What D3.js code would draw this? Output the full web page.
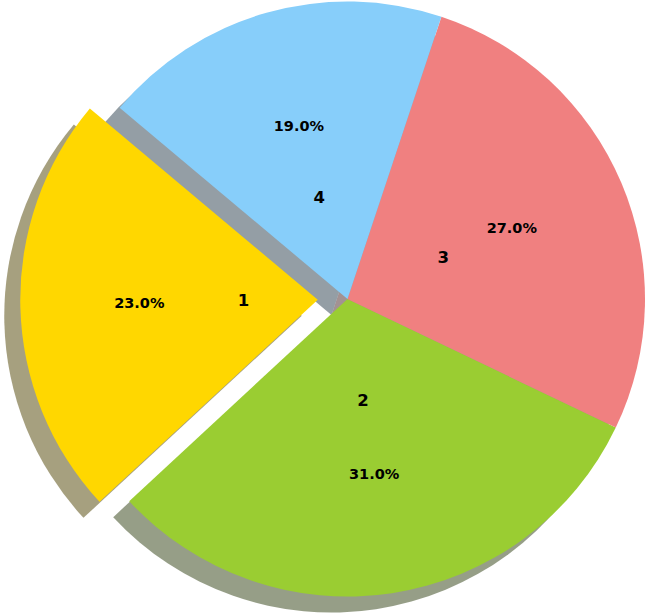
<!DOCTYPE html>
<html>
<head>
<meta charset="utf-8">
<script src="https://cdn.jsdelivr.net/npm/d3@7"></script>
<style>
html,body{margin:0;padding:0;background:#fff;}
svg{display:block;}
</style>
</head>
<body>
<svg id="chart" width="647" height="614"></svg>
<script>
const categories = ["1", "2", "3", "4"];
const values = [23, 31, 27, 19];
const colors = ["#FFD700", "#9ACD32", "#F08080", "#87CEFA"];
const explode = [0.1, 0, 0, 0];

const W = 647, H = 614;
const cx = 347.5, cy = 299, R = 297.5;
const startDeg = 140;            // matplotlib-style start angle (ccw from 3 o'clock)
const pctDistance = 0.6, labelDistance = 0.35;
const shadowDx = -16, shadowDy = 16;

const svg = d3.select("#chart");
const rad = d => d * Math.PI / 180;
const total = d3.sum(values);

const pie = d3.pie().sort(null).value(d => d.v)
  .startAngle(rad(90 - startDeg))
  .endAngle(rad(90 - startDeg - 360));

const data = categories.map((c, i) => ({ c, v: values[i], color: colors[i], ex: explode[i] }));
const arcs = pie(data);
const arc = d3.arc().innerRadius(0).outerRadius(R);

arcs.forEach(a => {
  a.mid = (a.startAngle + a.endAngle) / 2;
  a.ox = Math.sin(a.mid) * a.data.ex * R;
  a.oy = -Math.cos(a.mid) * a.data.ex * R;
});

const g = svg.append("g").attr("transform", `translate(${cx},${cy})`);

// shadows (behind all wedges)
g.selectAll("path.shadow").data(arcs).join("path")
  .attr("class", "shadow")
  .attr("transform", d => `translate(${d.ox + shadowDx},${d.oy + shadowDy})`)
  .attr("d", arc)
  .attr("fill", d => { const c = d3.rgb(d.data.color); return d3.rgb(c.r * 0.3, c.g * 0.3, c.b * 0.3).toString(); })
  .attr("fill-opacity", 0.5);

// wedges
g.selectAll("path.wedge").data(arcs).join("path")
  .attr("class", "wedge")
  .attr("transform", d => `translate(${d.ox},${d.oy})`)
  .attr("d", arc)
  .attr("fill", d => d.data.color);

const fsPct = 14.5, fsLab = 16.5;
const textLift = 1.5;

// percentage labels
g.selectAll("text.pct").data(arcs).join("text")
  .attr("class", "pct")
  .attr("x", d => d.ox + Math.sin(d.mid) * pctDistance * R)
  .attr("y", d => d.oy - Math.cos(d.mid) * pctDistance * R + 0.364 * fsPct - textLift)
  .attr("text-anchor", "middle")
  .attr("font-family", "DejaVu Sans")
  .attr("font-weight", "bold")
  .attr("font-size", fsPct)
  .attr("fill", "#000")
  .text(d => (d.data.v / total * 100).toFixed(1) + "%");

// category labels
g.selectAll("text.lab").data(arcs).join("text")
  .attr("class", "lab")
  .attr("x", d => Math.sin(d.mid) * labelDistance * R)
  .attr("y", d => -Math.cos(d.mid) * labelDistance * R + 0.364 * fsLab - textLift)
  .attr("text-anchor", "middle")
  .attr("font-family", "DejaVu Sans")
  .attr("font-weight", "bold")
  .attr("font-size", fsLab)
  .attr("fill", "#000")
  .text(d => d.data.c);
</script>
</body>
</html>
